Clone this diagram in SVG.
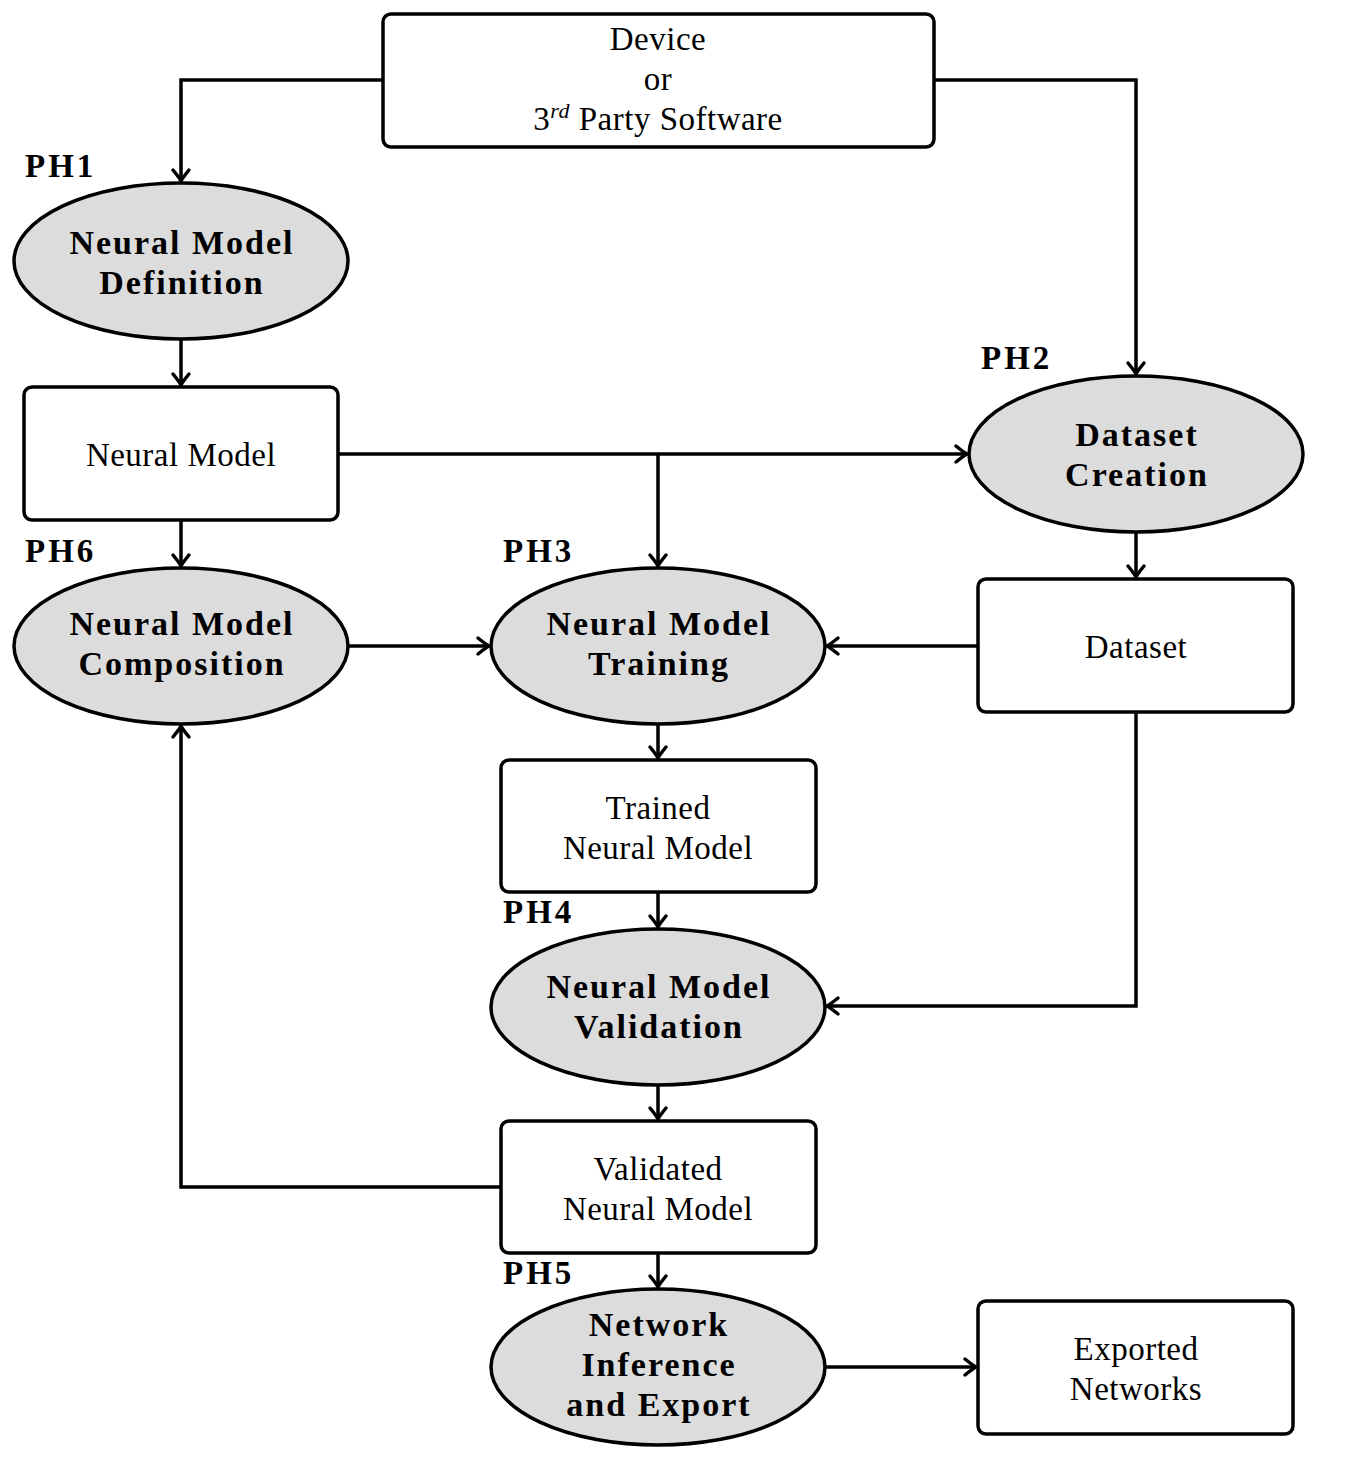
<svg xmlns="http://www.w3.org/2000/svg" width="1349" height="1461" viewBox="0 0 1349 1461">
<style>
.box{fill:#fff;stroke:#000;stroke-width:3.5}
.ell{fill:#dcdcdc;stroke:#000;stroke-width:3.5}
.t{font-family:"Liberation Serif","Times New Roman",serif;font-size:33px;text-anchor:middle;fill:#000;letter-spacing:0.5px}
.b{font-family:"Liberation Serif","Times New Roman",serif;font-size:34px;font-weight:bold;text-anchor:middle;fill:#000;letter-spacing:2px}
.ph{font-family:"Liberation Serif","Times New Roman",serif;font-size:33px;font-weight:bold;fill:#000;letter-spacing:3px}
.c{fill:none;stroke:#000;stroke-width:3.5}
</style>
<defs>
<marker id="arr" markerUnits="userSpaceOnUse" markerWidth="22" markerHeight="22" viewBox="-13 -11 15 22" refX="0" refY="0" orient="auto">
<path d="M -11 -8 Q -3 -1.5 0 0 Q -3 1.5 -11 8" fill="none" stroke="#000" stroke-width="3.5" stroke-linecap="round"/>
</marker>
</defs>
<g id="connectors">
<path class="c" d="M383 80 H181 V181" marker-end="url(#arr)"/>
<path class="c" d="M934 80 H1136 V374" marker-end="url(#arr)"/>
<path class="c" d="M181 339 V385" marker-end="url(#arr)"/>
<path class="c" d="M338 454 H967" marker-end="url(#arr)"/>
<path class="c" d="M658 454 V566" marker-end="url(#arr)"/>
<path class="c" d="M181 520 V566" marker-end="url(#arr)"/>
<path class="c" d="M348 646 H489" marker-end="url(#arr)"/>
<path class="c" d="M978 646 H827" marker-end="url(#arr)"/>
<path class="c" d="M1136 532 V577" marker-end="url(#arr)"/>
<path class="c" d="M1136 712 V1006 H827" marker-end="url(#arr)"/>
<path class="c" d="M658 724 V758" marker-end="url(#arr)"/>
<path class="c" d="M658 892 V927" marker-end="url(#arr)"/>
<path class="c" d="M658 1085 V1119" marker-end="url(#arr)"/>
<path class="c" d="M501 1187 H181 V726" marker-end="url(#arr)"/>
<path class="c" d="M658 1253 V1287" marker-end="url(#arr)"/>
<path class="c" d="M825 1367 H976" marker-end="url(#arr)"/>
</g>
<g id="source">
<rect class="box" x="383" y="14" width="551" height="133" rx="8"/>
<text class="t" x="658" y="50">Device</text>
<text class="t" x="658" y="90">or</text>
<text class="t" x="658" y="130">3<tspan font-style="italic" font-size="22" dy="-12">rd</tspan><tspan dy="12"> Party Software</tspan></text>
</g>
<g id="ph1">
<ellipse class="ell" cx="181" cy="261" rx="167" ry="78"/>
<text class="ph" x="25" y="177">PH1</text>
<text class="b" x="182" y="254">Neural Model</text>
<text class="b" x="182" y="294">Definition</text>
</g>
<g id="neuralmodel">
<rect class="box" x="24" y="387" width="314" height="133" rx="8"/>
<text class="t" x="181" y="466">Neural Model</text>
</g>
<g id="ph2">
<ellipse class="ell" cx="1136" cy="454" rx="167" ry="78"/>
<text class="ph" x="981" y="369">PH2</text>
<text class="b" x="1137" y="446">Dataset</text>
<text class="b" x="1137" y="486">Creation</text>
</g>
<g id="dataset">
<rect class="box" x="978" y="579" width="315" height="133" rx="8"/>
<text class="t" x="1136" y="658">Dataset</text>
</g>
<g id="ph6">
<ellipse class="ell" cx="181" cy="646" rx="167" ry="78"/>
<text class="ph" x="25" y="562">PH6</text>
<text class="b" x="182" y="635">Neural Model</text>
<text class="b" x="182" y="675">Composition</text>
</g>
<g id="ph3">
<ellipse class="ell" cx="658" cy="646" rx="167" ry="78"/>
<text class="ph" x="503" y="562">PH3</text>
<text class="b" x="659" y="635">Neural Model</text>
<text class="b" x="659" y="675">Training</text>
</g>
<g id="trained">
<rect class="box" x="501" y="760" width="315" height="132" rx="8"/>
<text class="t" x="658" y="819">Trained</text>
<text class="t" x="658" y="859">Neural Model</text>
</g>
<g id="ph4">
<ellipse class="ell" cx="658" cy="1007" rx="167" ry="78"/>
<text class="ph" x="503" y="923">PH4</text>
<text class="b" x="659" y="998">Neural Model</text>
<text class="b" x="659" y="1038">Validation</text>
</g>
<g id="validated">
<rect class="box" x="501" y="1121" width="315" height="132" rx="8"/>
<text class="t" x="658" y="1180">Validated</text>
<text class="t" x="658" y="1220">Neural Model</text>
</g>
<g id="ph5">
<ellipse class="ell" cx="658" cy="1367" rx="167" ry="78"/>
<text class="ph" x="503" y="1284">PH5</text>
<text class="b" x="659" y="1336">Network</text>
<text class="b" x="659" y="1376">Inference</text>
<text class="b" x="659" y="1416">and Export</text>
</g>
<g id="exported">
<rect class="box" x="978" y="1301" width="315" height="133" rx="8"/>
<text class="t" x="1136" y="1360">Exported</text>
<text class="t" x="1136" y="1400">Networks</text>
</g>
</svg>
